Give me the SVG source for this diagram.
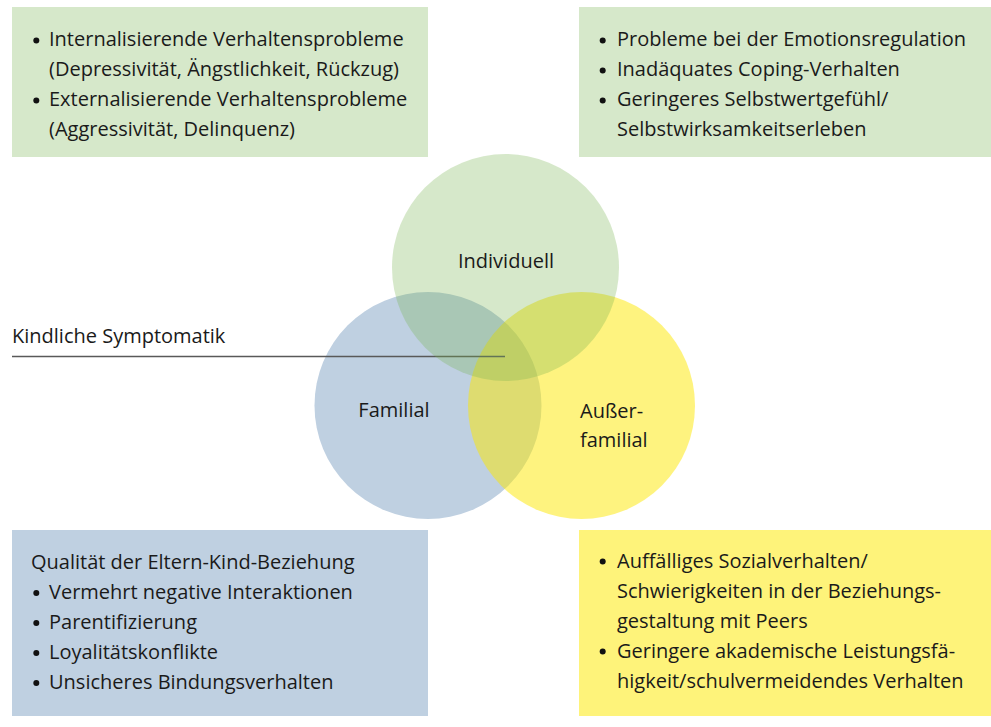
<svg xmlns="http://www.w3.org/2000/svg" width="991" height="727" viewBox="0 0 991 727">
<style>
text{font-family:"Open Sans","Noto Sans","Liberation Sans",sans-serif;font-size:20px;fill:#1a1a1a}
.g{fill:#d6e8ca}.b{fill:#bfd0e1}.y{fill:#fef37a}
.mid{text-anchor:middle}
.dot{fill:#111}
</style>
<rect width="991" height="727" fill="#fff"/>
<g id="familial"><circle fill="#bfd0e1" cx="428" cy="405.5" r="113.5"/></g>
<g id="ausserfamilial"><circle fill="#fde800" fill-opacity="0.5" cx="581.5" cy="405.5" r="113.5"/></g>
<g id="connectors"><line x1="12" y1="356.5" x2="505" y2="356.5" stroke="#595959" stroke-width="1.5"/></g>
<g id="individuell"><circle fill="#76b24e" fill-opacity="0.3" cx="505.5" cy="267.5" r="113.5"/></g>
<g id="labels">
<text class="mid" x="506" y="268">Individuell</text>
<text class="mid" x="394" y="417">Familial</text>
<text x="580" y="418">Außer-</text>
<text x="580" y="447">familial</text>
<text x="12" y="343">Kindliche Symptomatik</text>
</g>
<g id="box-tl">
<rect class="g" x="12" y="7" width="416" height="150"/>
<circle class="dot" cx="36.3" cy="40.5" r="3"/><text x="49" y="46">Internalisierende Verhaltensprobleme</text>
<text x="49" y="76">(Depressivität, Ängstlichkeit, Rückzug)</text>
<circle class="dot" cx="36.3" cy="100.5" r="3"/><text x="49" y="106">Externalisierende Verhaltensprobleme</text>
<text x="49" y="136">(Aggressivität, Delinquenz)</text>
</g>
<g id="box-tr">
<rect class="g" x="579" y="7" width="412" height="150"/>
<circle class="dot" cx="602.7" cy="40.5" r="3"/><text x="617" y="46">Probleme bei der Emotionsregulation</text>
<circle class="dot" cx="602.7" cy="70.5" r="3"/><text x="617" y="76">Inadäquates Coping-Verhalten</text>
<circle class="dot" cx="602.7" cy="100.5" r="3"/><text x="617" y="106">Geringeres Selbstwertgefühl/</text>
<text x="617" y="136">Selbstwirksamkeitserleben</text>
</g>
<g id="box-bl">
<rect class="b" x="12" y="530" width="416" height="186"/>
<text x="31" y="569">Qualität der Eltern-Kind-Beziehung</text>
<circle class="dot" cx="36.3" cy="593" r="3"/><text x="49" y="599">Vermehrt negative Interaktionen</text>
<circle class="dot" cx="36.3" cy="623" r="3"/><text x="49" y="629">Parentifizierung</text>
<circle class="dot" cx="36.3" cy="653" r="3"/><text x="49" y="659">Loyalitätskonflikte</text>
<circle class="dot" cx="36.3" cy="683" r="3"/><text x="49" y="689">Unsicheres Bindungsverhalten</text>
</g>
<g id="box-br">
<rect class="y" x="579" y="530" width="412" height="186"/>
<circle class="dot" cx="602.7" cy="561.5" r="3"/><text x="617" y="568">Auffälliges Sozialverhalten/</text>
<text x="617" y="598">Schwierigkeiten in der Beziehungs-</text>
<text x="617" y="628">gestaltung mit Peers</text>
<circle class="dot" cx="602.7" cy="651.5" r="3"/><text x="617" y="658">Geringere akademische Leistungsfä-</text>
<text x="617" y="688">higkeit/schulvermeidendes Verhalten</text>
</g>
</svg>
